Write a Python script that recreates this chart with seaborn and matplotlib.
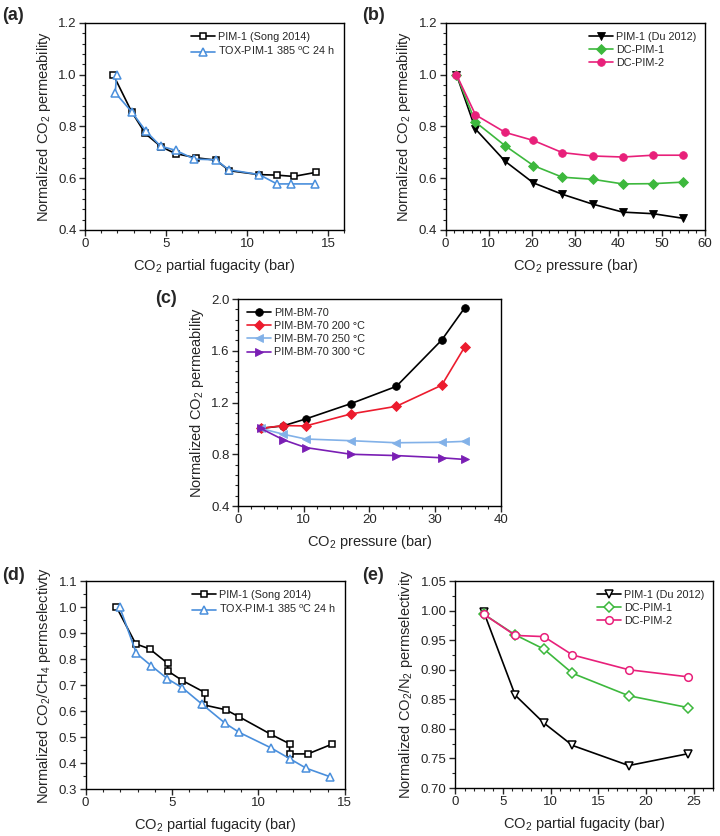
import matplotlib
matplotlib.use("Agg")
import matplotlib.pyplot as plt
import seaborn as sns
from matplotlib.ticker import AutoMinorLocator, MultipleLocator, FormatStrFormatter

# ---------------- data ----------------
# (a) normalized CO2 permeability vs CO2 partial fugacity
a_pim_x = [1.75, 2.88, 3.72, 4.69, 5.6, 6.87, 8.09, 8.91, 10.76, 11.85, 12.88, 14.28]
a_pim_y = [1.0, 0.857, 0.773, 0.722, 0.695, 0.679, 0.670, 0.629, 0.614, 0.612, 0.607, 0.623]
a_tox_x = [1.95, 1.87, 2.88, 3.76, 4.67, 5.6, 6.75, 8.09, 8.87, 10.76, 11.85, 12.74, 14.18]
a_tox_y = [1.0, 0.930, 0.857, 0.782, 0.724, 0.708, 0.674, 0.671, 0.633, 0.614, 0.578, 0.578, 0.578]

# (b) normalized CO2 permeability vs CO2 pressure
b_x = [2.5, 6.9, 13.8, 20.3, 27.0, 34.0, 41.0, 48.0, 55.0]
b_pim1 = [1.0, 0.790, 0.665, 0.582, 0.538, 0.500, 0.469, 0.463, 0.445]
b_dc1 = [1.0, 0.817, 0.725, 0.649, 0.604, 0.596, 0.578, 0.579, 0.585]
b_dc2 = [1.0, 0.845, 0.777, 0.746, 0.699, 0.686, 0.682, 0.689, 0.689]

# (c) normalized CO2 permeability vs CO2 pressure
c_x = [3.45, 6.9, 10.3, 17.2, 24.1, 31.0, 34.5]
c_bm70 = [1.0, 1.02, 1.073, 1.192, 1.325, 1.683, 1.932]
c_bm200 = [1.0, 1.022, 1.019, 1.112, 1.171, 1.334, 1.630]
c_bm250 = [1.0, 0.955, 0.918, 0.905, 0.889, 0.893, 0.900]
c_bm300 = [1.0, 0.912, 0.852, 0.800, 0.790, 0.773, 0.760]

# (d) normalized CO2/CH4 permselectivity vs CO2 partial fugacity
d_pim_x = [1.78, 2.9, 3.7, 4.75, 4.75, 5.6, 6.9, 6.87, 8.1, 8.9, 10.7, 11.8, 11.8, 12.86, 14.27]
d_pim_y = [1.0, 0.858, 0.839, 0.783, 0.754, 0.717, 0.671, 0.623, 0.605, 0.577, 0.511, 0.474, 0.435, 0.435, 0.473]
d_tox_x = [1.97, 2.93, 3.78, 4.73, 5.6, 6.72, 8.09, 8.88, 10.73, 11.8, 12.76, 14.15]
d_tox_y = [1.0, 0.822, 0.775, 0.724, 0.689, 0.627, 0.552, 0.518, 0.458, 0.417, 0.380, 0.347]

# (e) normalized CO2/N2 permselectivity vs CO2 partial fugacity
e_x = [3.0, 6.3, 9.3, 12.3, 18.2, 24.4]
e_pim1 = [0.998, 0.857, 0.810, 0.772, 0.738, 0.758]
e_dc1 = [0.994, 0.959, 0.935, 0.894, 0.856, 0.836]
e_dc2 = [0.994, 0.958, 0.956, 0.925, 0.900, 0.888]

# ---------------- style ----------------
sns.set_theme(style="white")
plt.rcParams["font.family"] = ["Liberation Sans", "DejaVu Sans"]
plt.rcParams["mathtext.default"] = "regular"
plt.rcParams["axes.edgecolor"] = "black"
plt.rcParams["axes.linewidth"] = 1.0

BLUE = "#4a8fdc"
GREEN = "#3db83d"
PINK = "#e8207a"
RED = "#ec1c2e"
LBLUE = "#82b1e8"
PURPLE = "#7a1eb4"

fig = plt.figure(figsize=(7.2, 8.36), dpi=100)

ax_a = fig.add_axes([0.118, 0.7249, 0.360, 0.2476])
ax_b = fig.add_axes([0.619, 0.7249, 0.360, 0.2476])
ax_c = fig.add_axes([0.3306, 0.3947, 0.365, 0.2476])
ax_d = fig.add_axes([0.119, 0.0562, 0.360, 0.2488])
ax_e = fig.add_axes([0.632, 0.0574, 0.358, 0.2476])


def line(ax, x, y, label, color, marker, filled=True, ms=5.5):
    kw = dict(markerfacecolor=color if filled else "white",
              markeredgecolor=color, markeredgewidth=1.1 if not filled else 0.6)
    sns.lineplot(x=x, y=y, ax=ax, label=label, color=color, marker=marker,
                 markersize=ms, linewidth=1.2, estimator=None, sort=False,
                 errorbar=None, **kw)


def style_ax(ax, xlim, ylim, xmaj, ymaj, xminor, yminor, xlabel, ylabel, loc, yfmt):
    ax.set_xlim(*xlim)
    ax.set_ylim(*ylim)
    ax.xaxis.set_major_locator(MultipleLocator(xmaj))
    ax.yaxis.set_major_locator(MultipleLocator(ymaj))
    ax.xaxis.set_minor_locator(AutoMinorLocator(xminor))
    ax.yaxis.set_minor_locator(AutoMinorLocator(yminor))
    ax.yaxis.set_major_formatter(FormatStrFormatter(yfmt))
    ax.tick_params(which="major", direction="out", length=4, width=1.0,
                   labelsize=9.5, bottom=True, left=True, top=False, right=False, pad=2)
    ax.tick_params(which="minor", direction="out", length=2, width=0.8,
                   bottom=True, left=True, top=False, right=False)
    for s in ax.spines.values():
        s.set_visible(True)
        s.set_color("black")
        s.set_linewidth(1.0)
    ax.set_xlabel(xlabel, fontsize=10.5, labelpad=5)
    ax.set_ylabel(ylabel, fontsize=10.5, labelpad=4)
    ax.legend(loc=loc, frameon=False, fontsize=7.8, handlelength=2.2,
              handletextpad=0.3, labelspacing=0.3, borderaxespad=0.4)


# (a)
line(ax_a, a_pim_x, a_pim_y, "PIM-1 (Song 2014)", "black", "s", filled=False, ms=4.8)
line(ax_a, a_tox_x, a_tox_y, "TOX-PIM-1 385 $^{o}$C 24 h", BLUE, "^", filled=False, ms=6)
style_ax(ax_a, (0, 16), (0.4, 1.2), 5, 0.2, 5, 5,
         "CO$_2$ partial fugacity (bar)", "Normalized CO$_2$ permeability", "upper right", "%.1f")

# (b)
line(ax_b, b_x, b_pim1, "PIM-1 (Du 2012)", "black", "v", ms=6)
line(ax_b, b_x, b_dc1, "DC-PIM-1", GREEN, "D", ms=5)
line(ax_b, b_x, b_dc2, "DC-PIM-2", PINK, "o", ms=5.5)
style_ax(ax_b, (0, 60), (0.4, 1.2), 10, 0.2, 5, 5,
         "CO$_2$ pressure (bar)", "Normalized CO$_2$ permeability", "upper right", "%.1f")

# (c)
line(ax_c, c_x, c_bm70, "PIM-BM-70", "black", "o", ms=5.5)
line(ax_c, c_x, c_bm200, "PIM-BM-70 200 °C", RED, "D", ms=5)
line(ax_c, c_x, c_bm250, "PIM-BM-70 250 °C", LBLUE, "<", ms=6)
line(ax_c, c_x, c_bm300, "PIM-BM-70 300 °C", PURPLE, ">", ms=6)
style_ax(ax_c, (0, 40), (0.4, 2.0), 10, 0.4, 5, 5,
         "CO$_2$ pressure (bar)", "Normalized CO$_2$ permeability", "upper left", "%.1f")

# (d)
line(ax_d, d_pim_x, d_pim_y, "PIM-1 (Song 2014)", "black", "s", filled=False, ms=4.8)
line(ax_d, d_tox_x, d_tox_y, "TOX-PIM-1 385 $^{o}$C 24 h", BLUE, "^", filled=False, ms=6)
style_ax(ax_d, (0, 15), (0.3, 1.1), 5, 0.1, 5, 2,
         "CO$_2$ partial fugacity (bar)", "Normalized CO$_2$/CH$_4$ permselectivty", "upper right", "%.1f")

# (e)
line(ax_e, e_x, e_pim1, "PIM-1 (Du 2012)", "black", "v", filled=False, ms=6)
line(ax_e, e_x, e_dc1, "DC-PIM-1", GREEN, "D", filled=False, ms=5)
line(ax_e, e_x, e_dc2, "DC-PIM-2", PINK, "o", filled=False, ms=5.5)
style_ax(ax_e, (0, 27), (0.70, 1.05), 5, 0.05, 5, 2,
         "CO$_2$ partial fugacity (bar)", "Normalized CO$_2$/N$_2$ permselectivity", "upper right", "%.2f")

# panel labels
for txt, x, y in [("(a)", 0.003, 0.982), ("(b)", 0.503, 0.982), ("(c)", 0.215, 0.643),
                  ("(d)", 0.003, 0.312), ("(e)", 0.503, 0.312)]:
    fig.text(x, y, txt, fontsize=13, fontweight="bold", ha="left", va="center")

fig.savefig("out.png", dpi=100)
